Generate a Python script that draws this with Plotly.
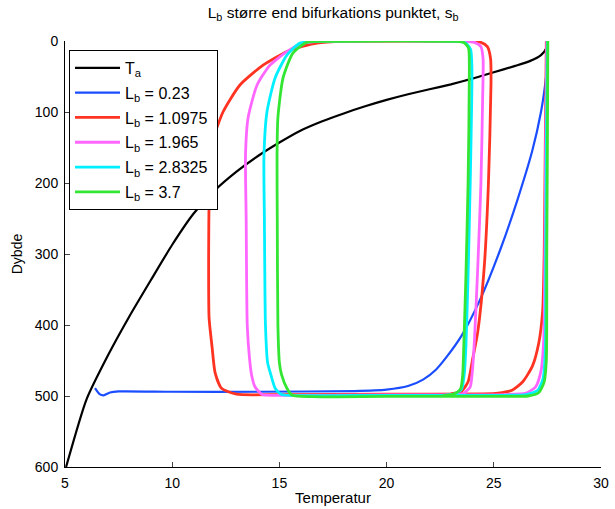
import plotly.graph_objects as go

# ---- data ----
ta_x = [27.52, 27.45, 27.2, 26.7, 26.0, 25.0, 24.0, 23.0, 22.0, 21.0, 20.0, 19.0, 18.0, 17.0, 16.0, 15.0,
        14.0, 13.0, 12.0, 11.0, 10.0, 9.0, 8.0, 7.0, 6.0, 5.05]
ta_y = [0, 10, 20, 28, 35, 44, 53, 61, 68, 75, 83, 92, 102, 113, 126, 143,
        162, 184, 210, 243, 287, 337, 388, 443, 505, 600]

b023_x = [27.52, 27.5, 27.4, 27.2, 26.8, 26.1, 25.3, 24.35, 23.5, 22.8, 22.3, 21.7, 21.0, 20.0, 18.5, 14.0, 10.0,
          7.5, 7.1, 6.8, 6.6, 6.4]
b023_y = [0, 30, 60, 100, 154, 224, 294, 365, 415, 445, 463, 477, 486, 491, 493, 494, 494,
          493.5, 495, 499, 497, 489]

b10975_x = [27.45, 27.4, 27.35, 27.28, 27.1, 26.8, 26.35, 25.85, 25.2, 24.5, 20.0, 15.0, 13.0, 12.3, 12.0, 11.86, 11.72,
            11.7, 11.72, 11.76, 11.95, 12.37, 13.16, 14.24, 15.49, 16.75, 18.0, 23.8, 24.4, 24.7, 24.85, 24.87,
            24.75, 24.55, 24.25, 24.0, 23.8, 23.5, 23.0]
b10975_y = [0, 150, 300, 380, 425, 458, 480, 492, 496, 497, 497.5, 498, 497.5, 489, 467, 431, 390,
            300, 220, 170, 135, 100, 62, 34, 13, 3, 0.5, 0.5, 2, 8, 25, 60,
            200, 320, 410, 450, 480, 493, 497]

b1965_x = [27.47, 27.42, 27.38, 27.33, 27.2, 26.95, 26.5, 25.5, 20.0, 15.0, 14.2, 13.86, 13.7, 13.6, 13.5,
           13.45, 13.42, 13.54, 13.96, 14.56, 15.35, 16.1, 17.0, 23.5, 24.1, 24.4, 24.5, 24.48,
           24.4, 24.25, 24.1, 24.0, 23.9, 23.6, 23.0]
b1965_y = [0, 150, 300, 420, 465, 487, 496, 498, 498.5, 499, 498, 487, 470, 445, 400,
           250, 160, 108, 62, 34, 15, 3, 0.5, 0.5, 2, 8, 25, 80,
           200, 320, 420, 465, 487, 496, 498]

b28325_x = [27.5, 27.45, 27.42, 27.4, 27.3, 27.05, 26.5, 25.5, 20.0, 16.0, 15.1, 14.8, 14.6, 14.45, 14.35,
            14.3, 14.28, 14.42, 14.8, 15.35, 15.96, 16.8, 23.3, 23.7, 23.92, 23.98,
            23.9, 23.8, 23.7, 23.62, 23.5, 23.2, 22.6]
b28325_y = [0, 150, 300, 440, 475, 492, 498, 499, 499, 499.5, 498, 489, 470, 453, 400,
            250, 162, 100, 52, 20, 3, 0.5, 0.5, 3, 12, 40,
            200, 330, 430, 470, 490, 497, 499]

b37_x = [27.52, 27.5, 27.47, 27.45, 27.35, 27.1, 26.6, 25.5, 20.0, 16.5, 15.6, 15.35, 15.1, 15.0, 14.93,
         14.9, 14.89, 14.93, 15.17, 15.63, 16.29, 17.0, 23.2, 23.6, 23.82, 23.86,
         23.8, 23.7, 23.6, 23.55, 23.45, 23.15, 22.6]
b37_y = [0, 150, 300, 450, 480, 495, 500, 500.5, 500.5, 501, 499, 489, 470, 453, 400,
         250, 162, 108, 52, 17, 1.5, 0.5, 0.5, 2, 10, 40,
         200, 330, 430, 470, 490, 497, 500]

series = [
    ("T<sub>a</sub>", ta_x, ta_y, "#000000", 2.2),
    ("L<sub>b</sub> = 0.23", b023_x, b023_y, "#1a4dff", 2.2),
    ("L<sub>b</sub> = 1.0975", b10975_x, b10975_y, "#ff3322", 2.8),
    ("L<sub>b</sub> = 1.965", b1965_x, b1965_y, "#ff66ff", 2.8),
    ("L<sub>b</sub> = 2.8325", b28325_x, b28325_y, "#00f0ff", 2.8),
    ("L<sub>b</sub> = 3.7", b37_x, b37_y, "#33e633", 2.8),
]

x_ticks = [5, 10, 15, 20, 25, 30]
y_ticks = [0, 100, 200, 300, 400, 500, 600]

fig = go.Figure()
for i, (name, xs, ys, col, w) in enumerate(series):
    fig.add_trace(go.Scatter(x=xs, y=ys, mode="lines", name=name + "\u00a0",
                             line=dict(color=col, width=w, shape="spline", smoothing=0.6),
                             legendgroup=f"g{i}"))

font = "Liberation Sans, Arial, sans-serif"
fig.update_layout(
    width=615, height=509,
    margin=dict(l=65, r=14, t=41, b=42, autoexpand=False),
    paper_bgcolor="white", plot_bgcolor="white",
    font=dict(family=font, size=14, color="black"),
    title=dict(text="L<sub>b</sub> større end bifurkations punktet, s<sub>b</sub>",
               x=0.5416, xanchor="center", y=0.975, yanchor="middle",
               font=dict(size=15.5, family=font)),
    showlegend=True,
    legend=dict(x=0.0075, y=0.979, xanchor="left", yanchor="top",
                bgcolor="white", bordercolor="black", borderwidth=1,
                font=dict(size=16, family=font), tracegroupgap=1,
                itemwidth=45, traceorder="grouped"),
    xaxis=dict(range=[5, 30], tickvals=x_ticks, ticks="inside", ticklen=5,
               showline=True, linecolor="black", linewidth=1, showgrid=False,
               zeroline=False, ticklabelstandoff=3, automargin=False,
               title=dict(text="Temperatur", standoff=2, font=dict(size=15))),
    yaxis=dict(range=[600, 0], tickvals=y_ticks, ticks="inside", ticklen=5,
               showline=True, linecolor="black", linewidth=1, showgrid=False,
               zeroline=False, ticklabelstandoff=3, automargin=False,
               title=dict(text="Dybde", standoff=8, font=dict(size=14))),
)

fig.write_html("out.html")
